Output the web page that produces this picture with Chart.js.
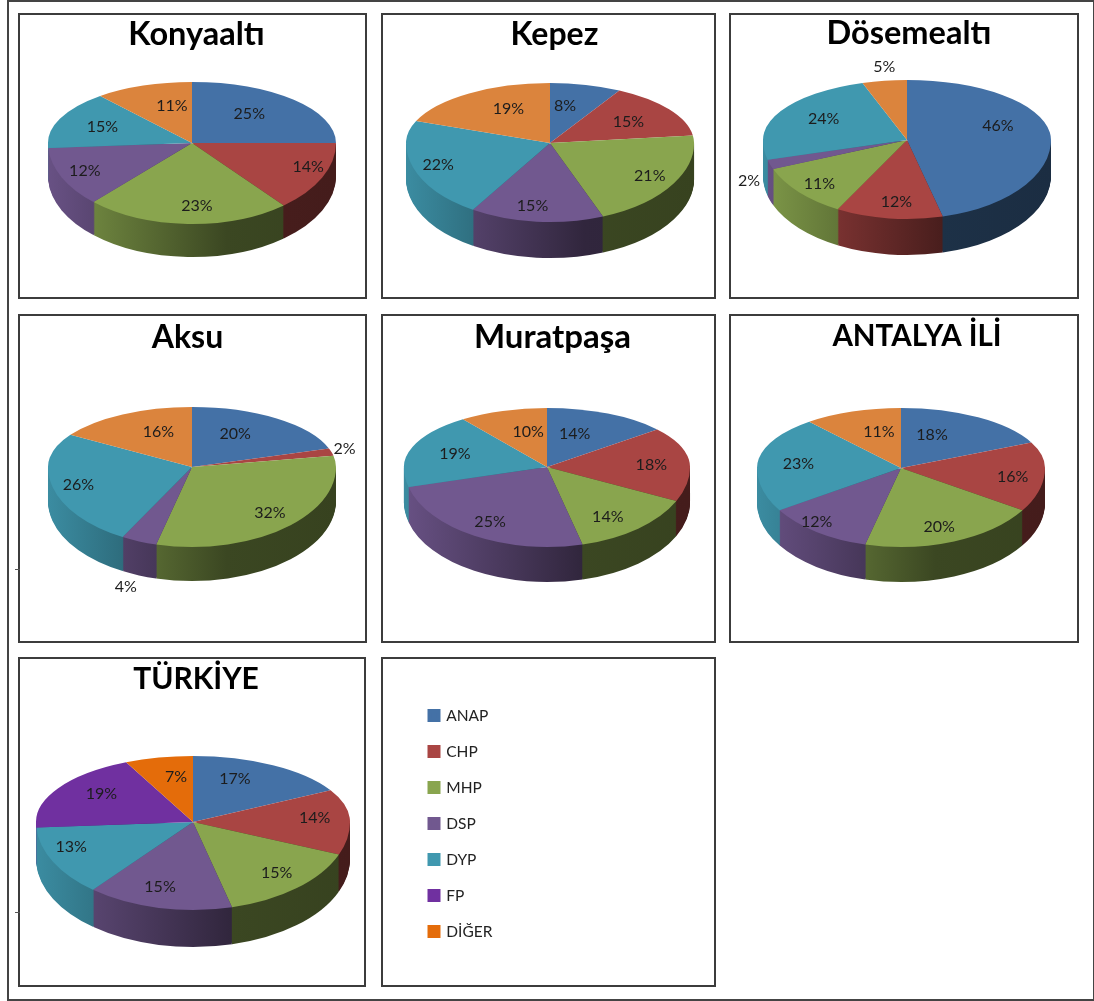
<!DOCTYPE html>
<html>
<head>
<meta charset="utf-8">
<title>Antalya</title>
<script src="https://cdn.jsdelivr.net/npm/chart.js@4"></script>
<style>
    html, body { margin: 0; background: #fff; }
    #page { position: relative; width: 1094px; height: 1001px; overflow: hidden; }
    #frame { position: absolute; left: 7px; top: 0; width: 1084px; height: 997px; border: 2px solid #444; }
    .panel { position: absolute; box-sizing: border-box; border: 2px solid #3c3c3c; }
    .panel canvas { position: absolute; left: -2px; top: -2px; }
    .tick { position: absolute; width: 5px; height: 1px; background: #555; }
</style>
</head>
<body>
<div id="page"><div id="frame"></div></div>
<script>
const parties = ['ANAP', 'CHP', 'MHP', 'DSP', 'DYP', 'FP', 'DİĞER'];
const localParties = ['ANAP', 'CHP', 'MHP', 'DSP', 'DYP', 'DİĞER'];

const konyaaltiValues = [25, 14, 23, 12, 15, 11];
const kepezValues = [8, 15, 21, 15, 22, 19];
const dosemealtiValues = [46, 12, 11, 2, 24, 5];
const aksuValues = [20, 2, 32, 4, 26, 16];
const muratpasaValues = [14, 18, 14, 25, 19, 10];
const antalyaValues = [18, 16, 20, 12, 23, 11];
const turkiyeValues = [17, 14, 15, 15, 13, 19, 7];

const localColors = ['#4471a6', '#a94543', '#89a54e', '#71588f', '#4098af', '#db843d'];
const turkiyeColors = ['#4471a6', '#a94543', '#89a54e', '#71588f', '#4098af', '#7030a0', '#e46c0a'];

const FONT = 'Lato';

// box = panel [x, y, w, h], cx/cy = pie apex on the page, up/down = squashed radius behind/in front of the apex
// nudge = label shift from the default spot on the slice
const panels = [
    { title: 'Konyaaltı', labels: localParties, values: konyaaltiValues, colors: localColors,
      box: [18, 13, 349, 286], titleDx: 4, titleTop: 2, titleSize: 32.5,
      pie: { cx: 192, cy: 143, r: 144, up: 61, down: 81, depth: 33 },
      nudge: [[-14, 1], [25, 0], [8, 6], [-16, 4], [3, 1], [14, 3]] },
    { title: 'Kepez', labels: localParties, values: kepezValues, colors: localColors,
      box: [381, 13, 335, 286], titleDx: 6, titleTop: 2, titleSize: 32,
      pie: { cx: 550, cy: 143, r: 144, up: 60, down: 79, depth: 36 },
      nudge: [[-10, 4], [-5, 2], [13, 5], [-8, 8], [-16, 5], [15, 1]] },
    { title: 'Dösemealtı', labels: localParties, values: dosemealtiValues, colors: localColors,
      box: [729, 13, 350, 286], titleDx: 5, titleTop: 1, titleSize: 32.5,
      pie: { cx: 907, cy: 140, r: 144, up: 60, down: 79, depth: 36 },
      nudge: [[-9, -9], [2, 7], [-12, 7], [-62, 24], [5, -1], [-7, -32]] },
    { title: 'Aksu', labels: localParties, values: aksuValues, colors: localColors,
      box: [18, 314, 349, 329], titleDx: -5, titleTop: 4, titleSize: 32,
      pie: { cx: 192, cy: 467, r: 144, up: 60, down: 80, depth: 34 },
      nudge: [[-16, 1], [55, -8], [9, 5], [-29, 68], [-16, 4], [15, 2]] },
    { title: 'Muratpaşa', labels: localParties, values: muratpasaValues, colors: localColors,
      box: [381, 314, 335, 329], titleDx: 4, titleTop: 4, titleSize: 33,
      pie: { cx: 547, cy: 467, r: 143, up: 59, down: 80, depth: 35 },
      nudge: [[-15, 4], [5, 3], [-3, 7], [-6, 7], [2, 1], [12, 4]] },
    { title: 'ANTALYA İLİ', labels: localParties, values: antalyaValues, colors: localColors,
      box: [729, 314, 350, 329], titleDx: 13, titleTop: 5, titleSize: 29.5,
      pie: { cx: 901, cy: 468, r: 144, up: 60, down: 79, depth: 35 },
      nudge: [[-23, 2], [11, 5], [1, 7], [-25, 9], [-3, 2], [12, 3]] },
    { title: 'TÜRKİYE', labels: parties, values: turkiyeValues, colors: turkiyeColors,
      box: [18, 657, 348, 330], titleDx: 4, titleTop: 4, titleSize: 30,
      pie: { cx: 193, cy: 822, r: 157, up: 66, down: 88, depth: 37 },
      nudge: [[-14, -3], [12, -1], [11, 5], [-9, 5], [-24, -3], [3, -5], [7, 0]] }
];

function shade(hex, f) {
    const n = parseInt(hex.slice(1), 16);
    const c = [n >> 16, (n >> 8) & 255, n & 255].map(v => Math.round(v * f));
    return 'rgb(' + c.join(',') + ')';
}

// Tilted 3D look: the library's arcs are redrawn squashed, back and front half with their own ratio
function pie3d(panel) {
    const { box, pie } = panel;
    const cx = pie.cx - box[0];
    const cy = pie.cy - box[1];

    function drawHalf(chart, arcs, front, dy) {
        const ctx = chart.ctx;
        ctx.save();
        ctx.beginPath();
        if (front) {
            ctx.rect(0, cy + dy, chart.width, chart.height);
        } else {
            ctx.rect(0, 0, chart.width, cy + dy);
        }
        ctx.clip();
        ctx.translate(cx, cy + dy);
        ctx.scale(1, (front ? pie.down : pie.up) / pie.r);
        ctx.translate(-arcs[0].x, -arcs[0].y);
        arcs.forEach(arc => arc.draw(ctx));
        ctx.restore();
    }

    return {
        id: 'pie3d',
        afterLayout(chart) {
            chart.titleBlock.left += panel.titleDx;
            chart.titleBlock.right += panel.titleDx;
        },
        beforeDatasetsDraw(chart) {
            const ctx = chart.ctx;
            const arcs = chart.getDatasetMeta(0).data;
            const x0 = arcs[0].x;

            // side wall, darker to the right
            const tops = arcs.map(arc => arc.options);
            arcs.forEach((arc, i) => {
                const g = ctx.createLinearGradient(x0 - pie.r, 0, x0 + pie.r, 0);
                g.addColorStop(0, shade(panel.colors[i], 0.92));
                g.addColorStop(0.62, shade(panel.colors[i], 0.43));
                g.addColorStop(1, shade(panel.colors[i], 0.4));
                arc.options = Object.assign({}, tops[i], { backgroundColor: g });
            });
            for (let d = pie.depth; d > 0; d--) {
                drawHalf(chart, arcs, true, d);
            }
            arcs.forEach((arc, i) => { arc.options = tops[i]; });

            // top face
            drawHalf(chart, arcs, false, 0);
            drawHalf(chart, arcs, true, 0);

            // percent labels
            ctx.save();
            ctx.font = '16px ' + FONT;
            ctx.fillStyle = '#1c1c1c';
            ctx.textAlign = 'center';
            ctx.textBaseline = 'middle';
            arcs.forEach((arc, i) => {
                const mid = (arc.startAngle + arc.endAngle) / 2;
                const sy = Math.sin(mid);
                const x = cx + 0.7 * pie.r * Math.cos(mid);
                const y = cy + 0.7 * (sy > 0 ? pie.down : pie.up) * sy;
                ctx.fillText(panel.values[i] + '%', x + panel.nudge[i][0], y + panel.nudge[i][1]);
            });
            ctx.restore();
            return false;
        }
    };
}

function addPanel(box) {
    const div = document.createElement('div');
    div.className = 'panel';
    div.style.left = box[0] + 'px';
    div.style.top = box[1] + 'px';
    div.style.width = box[2] + 'px';
    div.style.height = box[3] + 'px';
    const canvas = document.createElement('canvas');
    canvas.width = box[2];
    canvas.height = box[3];
    div.appendChild(canvas);
    document.getElementById('page').appendChild(div);
    return canvas;
}

panels.forEach(function(panel) {
    new Chart(addPanel(panel.box), {
        type: 'pie',
        data: {
            labels: panel.labels,
            datasets: [{ data: panel.values, backgroundColor: panel.colors, borderWidth: 0 }]
        },
        options: {
            responsive: false,
            animation: false,
            radius: panel.pie.r,
            plugins: {
                legend: { display: false },
                tooltip: { enabled: false },
                title: {
                    display: true,
                    text: panel.title,
                    color: '#000',
                    font: { family: FONT, size: panel.titleSize, weight: 'bold' },
                    padding: { top: panel.titleTop, bottom: 4 }
                }
            }
        },
        plugins: [pie3d(panel)]
    });
});

// Shared legend panel: only the legend shows, the pie is not drawn.
// The swatch border tightens the gap between box and text.
new Chart(addPanel([381, 657, 335, 330]), {
    type: 'pie',
    data: {
        labels: parties,
        datasets: [{ data: turkiyeValues, backgroundColor: turkiyeColors, borderColor: turkiyeColors, borderWidth: 4 }]
    },
    options: {
        responsive: false,
        animation: false,
        layout: { padding: { left: 28, bottom: -3 } },
        plugins: {
            tooltip: { enabled: false },
            legend: {
                position: 'left',
                labels: {
                    boxWidth: 9,
                    boxHeight: 9,
                    padding: 20.5,
                    color: '#222',
                    font: { family: FONT, size: 15.5 }
                }
            }
        }
    },
    plugins: [{ id: 'noPie', beforeDatasetsDraw() { return false; } }]
});

// stray marks on the scan's left edge
[[15, 569], [15, 912]].forEach(function(p) {
    const t = document.createElement('div');
    t.className = 'tick';
    t.style.left = p[0] + 'px';
    t.style.top = p[1] + 'px';
    document.getElementById('page').appendChild(t);
});
</script>
</body>
</html>
